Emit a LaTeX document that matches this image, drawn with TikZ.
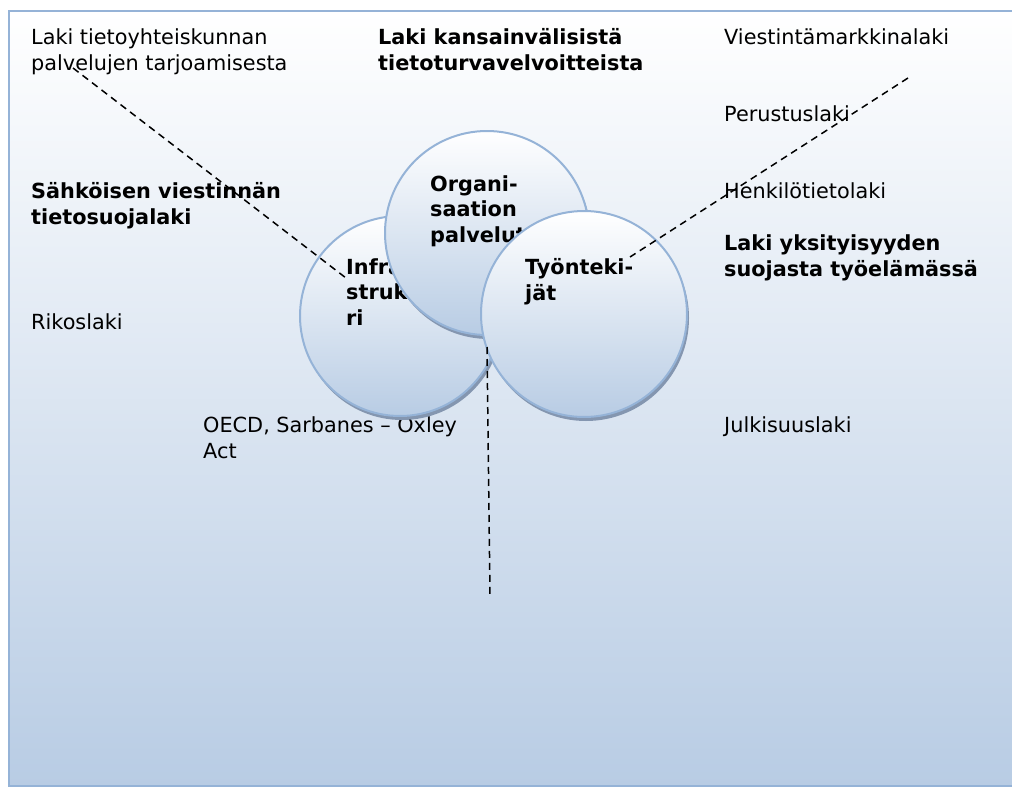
\documentclass[tikz,border=0pt]{standalone}
\usepackage{fontspec}
\setmainfont{DejaVu Sans}
\definecolor{frameblue}{HTML}{95B3D7}
\definecolor{fillblue}{HTML}{B8CCE4}
\definecolor{shadowblue}{HTML}{8496B0}
\begin{document}
\begin{tikzpicture}[x=1pt,y=-1pt,
  lbl/.style={anchor=base west,inner sep=0pt,align=left,font=\fontsize{20.8}{25.5}\selectfont},
  blbl/.style={lbl,font=\fontsize{20.8}{25.5}\selectfont\bfseries},
  ring/.style={circle,draw=frameblue,line width=2pt,top color=white,bottom color=fillblue,inner sep=0pt},
  shade/.style={circle,fill=shadowblue,inner sep=0pt},
  conn/.style={draw=black,line width=1.5pt,dash pattern=on 7pt off 5pt}]
\useasboundingbox (0,0) rectangle (1012,787);
% background panel
\draw[frameblue,line width=2pt,top color=white,bottom color=fillblue] (9,11) rectangle (1020,786);
% texts (anchor = baseline of the last line)
\node[lbl]  (t1) at (31,70)  {Laki tietoyhteiskunnan\\palvelujen tarjoamisesta};
\node[blbl] (t2) at (378,70) {Laki kansainvälisistä\\tietoturvavelvoitteista};
\node[lbl]  (t3) at (724,44) {Viestintämarkkinalaki};
\node[lbl]  (t4) at (724,121) {Perustuslaki};
\node[blbl] (t5) at (31,224) {Sähköisen viestinnän\\tietosuojalaki};
\node[lbl]  (t6) at (724,198) {Henkilötietolaki};
\node[blbl] (t7) at (724,276) {Laki yksityisyyden\\suojasta työelämässä};
\node[lbl]  (t8) at (31,329) {Rikoslaki};
\node[lbl]  (t9) at (203,458) {OECD, Sarbanes – Oxley\\Act};
\node[lbl]  (t10) at (724,432) {Julkisuuslaki};
% circles
\node[shade,minimum size=200pt] (s1) at (402,320) {};
\node[ring,minimum size=200pt] (c1) at (400,316) {};
\node[blbl] (l1) at (346,325) {Infra-\\struktuu-\\ri};
\node[shade,minimum size=204pt] (s2) at (489,237) {};
\node[ring,minimum size=204pt] (c2) at (487,233) {};
\node[blbl] (l2) at (430,242) {Organi-\\saation\\palvelut};
\node[shade,minimum size=206pt] (s3) at (586,318) {};
\node[ring,minimum size=206pt] (c3) at (584,314) {};
\node[blbl] (l3) at (525,300) {Työnteki-\\jät};
% connectors
\coordinate (a1) at (73,68);
\coordinate (a2) at (346,278);
\coordinate (b1) at (908,78);
\coordinate (b2) at (630,257);
\coordinate (d1) at (487,347);
\coordinate (d2) at (490,596);
\draw[conn] (a1) -- (a2);
\draw[conn] (b1) -- (b2);
\draw[conn] (d1) -- (d2);
\end{tikzpicture}
\end{document}
